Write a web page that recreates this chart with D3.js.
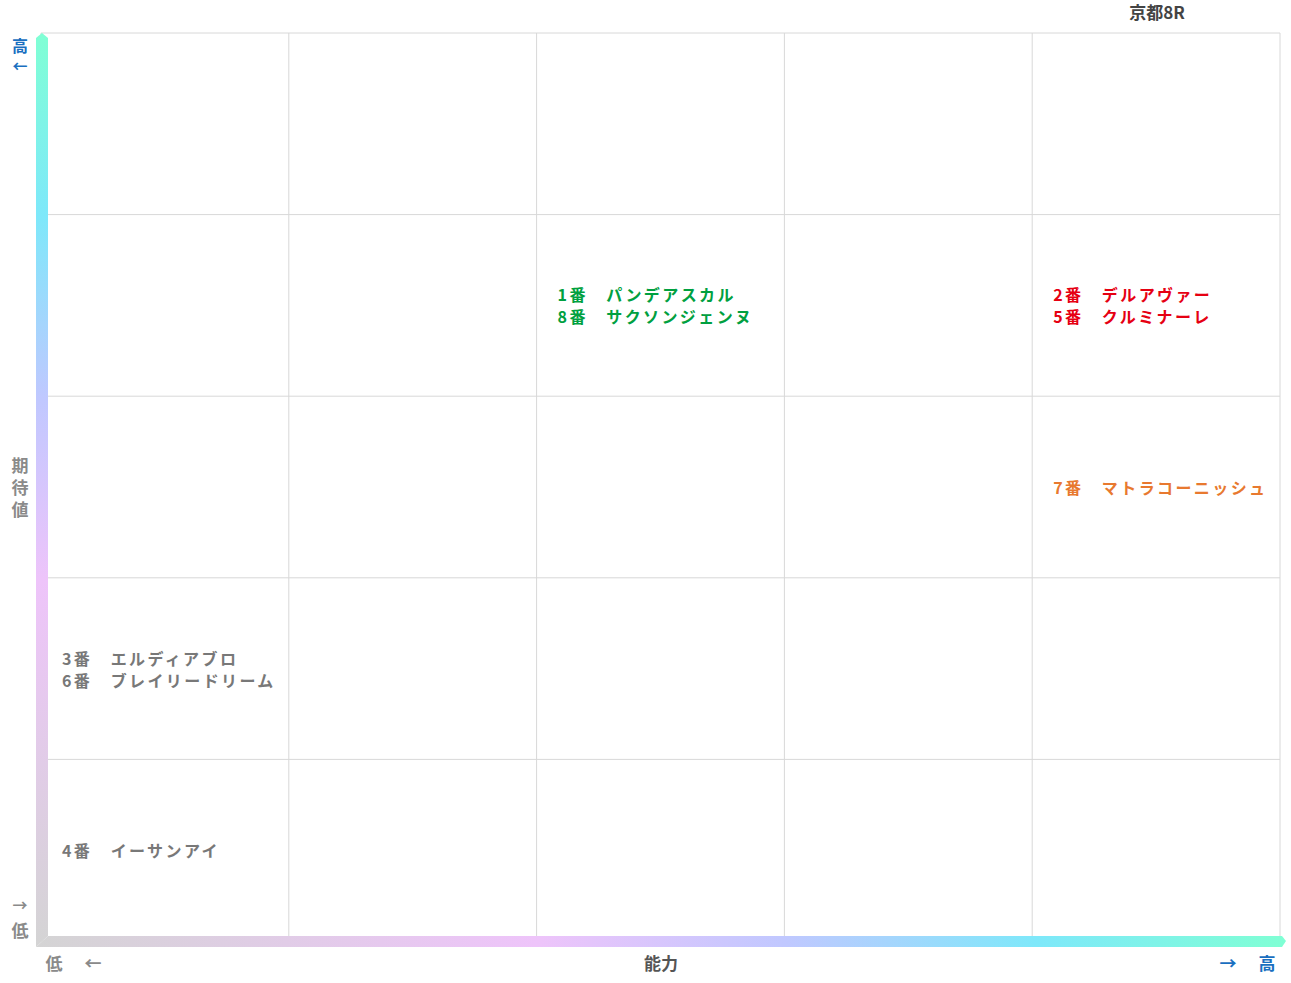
<!DOCTYPE html>
<html><head><meta charset="utf-8">
<script src="https://cdn.jsdelivr.net/npm/d3@7"></script>
<style>body{margin:0;background:#fff}svg text{font-family:"Noto Sans CJK JP",sans-serif;font-weight:bold}</style>
</head><body><svg id="c" width="1291" height="983"></svg>
<script>
const title = "京都8R";
const colIdx = [0,1,2,3,4];
const rowIdx = [0,1,2,3,4];
const groupCol = [2,4,4,0,0];
const groupRow = [3,3,2,1,0];
const groupColor = ["#00a040","#e60012","#e8792f","#787878","#787878"];
const groupLines = [
  ["1番　パンデアスカル","8番　サクソンジェンヌ"],
  ["2番　デルアヴァー","5番　クルミナーレ"],
  ["7番　マトラコーニッシュ"],
  ["3番　エルディアブロ","6番　ブレイリードリーム"],
  ["4番　イーサンアイ"]
];
const svg = d3.select("#c");
const x = d3.scaleLinear().domain([0,5]).range([41,1280]);
const y = d3.scaleLinear().domain([0,5]).range([941,33]);
const defs = svg.append("defs");
const gv = defs.append("linearGradient").attr("id","gv").attr("x1",0).attr("y1",1).attr("x2",0).attr("y2",0);
const gh = defs.append("linearGradient").attr("id","gh");
const stops=[[0,"#d4d4d4"],[0.4,"#eec4fa"],[0.6,"#c0c8ff"],[0.8,"#7ee8fa"],[1,"#80ffd4"]];
[gv,gh].forEach(g=>stops.forEach(s=>g.append("stop").attr("offset",s[0]).attr("stop-color",s[1])));
svg.append("g").selectAll("line").data(d3.range(0,6)).join("line")
 .attr("x1",d=>x(d)).attr("x2",d=>x(d)).attr("y1",y(5)).attr("y2",y(0)).attr("stroke","#d8d8d8");
svg.append("g").selectAll("line").data(d3.range(0,6)).join("line")
 .attr("y1",d=>y(d)).attr("y2",d=>y(d)).attr("x1",x(0)).attr("x2",x(5)).attr("stroke","#d8d8d8");
svg.append("path").attr("d",`M36,${y(0)+6} L36,${y(5)+5} L42,${y(5)} L48,${y(5)+5} L48,${y(0)-5} Z`).attr("fill","url(#gv)");
svg.append("path").attr("d",`M36,${y(0)+6} L${x(5)+2},${y(0)+6} L${x(5)+6},${y(0)} L${x(5)+2},${y(0)-5} L48,${y(0)-5} Z`).attr("fill","url(#gh)");
svg.append("text").attr("x",1157).attr("y",19).attr("text-anchor","middle").attr("font-size",17).attr("fill","#444").text(title);
const blue="#1a6fc0", gray="#8a8a8a";
svg.append("text").attr("x",20).attr("y",52).attr("text-anchor","middle").attr("font-size",16).attr("fill",blue).text("高");
svg.append("text").attr("x",20).attr("y",72).attr("text-anchor","middle").attr("font-size",15).attr("fill",blue).text("←");
["期","待","値"].forEach((c,i)=>svg.append("text").attr("x",20).attr("y",472+i*22).attr("text-anchor","middle").attr("font-size",17).attr("fill",gray).text(c));
svg.append("text").attr("x",20).attr("y",911).attr("text-anchor","middle").attr("font-size",15).attr("fill",gray).text("→");
svg.append("text").attr("x",20).attr("y",937).attr("text-anchor","middle").attr("font-size",17).attr("fill",gray).text("低");
svg.append("text").attr("x",54).attr("y",970).attr("text-anchor","middle").attr("font-size",17).attr("fill",gray).text("低");
svg.append("text").attr("x",93).attr("y",970).attr("text-anchor","middle").attr("font-size",17).attr("fill",gray).text("←");
svg.append("text").attr("x",661).attr("y",970).attr("text-anchor","middle").attr("font-size",17).attr("fill","#555").text("能力");
svg.append("text").attr("x",1228).attr("y",970).attr("text-anchor","middle").attr("font-size",17).attr("fill",blue).text("→");
svg.append("text").attr("x",1267).attr("y",970).attr("text-anchor","middle").attr("font-size",17).attr("fill",blue).text("高");
groupLines.forEach((lines,i)=>{
  const cy=(y(groupRow[i])+y(groupRow[i]+1))/2;
  const n=lines.length;
  lines.forEach((t,j)=>{
    svg.append("text").attr("x",x(groupCol[i])+21).attr("y",cy+(j-(n-1)/2)*22+7)
     .attr("font-size",16).attr("fill",groupColor[i]).attr("letter-spacing",2.4).text(t);
  });
});
</script></body></html>
